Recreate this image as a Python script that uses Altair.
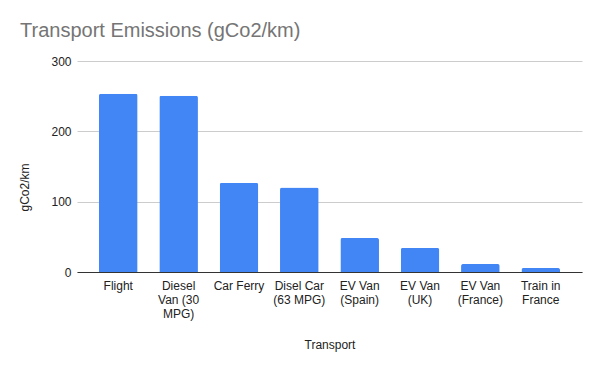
import altair as alt
import pandas as pd

categories = ["Flight", "Diesel Van (30 MPG)", "Car Ferry", "Disel Car (63 MPG)",
              "EV Van (Spain)", "EV Van (UK)", "EV Van (France)", "Train in France"]
label_lines = ["Flight", "Diesel|Van (30|MPG)", "Car Ferry", "Disel Car|(63 MPG)",
               "EV Van|(Spain)", "EV Van|(UK)", "EV Van|(France)", "Train in|France"]
values = [253.5, 250.6, 126.7, 120.0, 48.4, 34.2, 11.4, 5.7]

df = pd.DataFrame({"Transport": categories, "gCo2/km": values})

label_map = "{" + ", ".join(f"'{c}': '{l}'" for c, l in zip(categories, label_lines)) + "}"

font = "Liberation Sans"

chart = alt.Chart(df).mark_bar(color="#4285F4", cornerRadiusTopLeft=2, cornerRadiusTopRight=2).encode(
    x=alt.X("Transport:N", sort=categories,
            scale=alt.Scale(paddingInner=0.36, paddingOuter=0.364),
            axis=alt.Axis(labelAngle=0, labelExpr=f"split({label_map}[datum.value], '|')",
                          labelFont=font, labelFontSize=12, labelColor="#222222",
                          labelLineHeight=14, labelPadding=8, ticks=False,
                          domainColor="#333333", title="Transport", titleFont=font,
                          titleFontSize=12, titleFontWeight="normal", titleColor="#222222",
                          titlePadding=20)),
    y=alt.Y("gCo2/km:Q", scale=alt.Scale(domain=[0, 300]),
            axis=alt.Axis(values=[0, 100, 200, 300], labelFont=font, labelFontSize=12,
                          labelColor="#222222", labelPadding=6, ticks=False, domain=False,
                          gridColor="#cccccc", title="gCo2/km", titleFont=font,
                          titleFontSize=12, titleFontWeight="normal", titleColor="#222222",
                          titlePadding=19, titleY=126)),
).properties(
    width=505, height=211,
    autosize=alt.AutoSizeParams(type="none"),
    padding={"left": 69, "top": 53, "right": 10, "bottom": 90},
    title=alt.TitleParams("Transport Emissions (gCo2/km)", anchor="start", font=font,
                          fontSize=20, fontWeight="normal", color="#757575",
                          frame="group", dx=-57, offset=14),
).configure_view(stroke=None)

chart.save("out.html", embed_options={"renderer": "svg", "actions": False})
